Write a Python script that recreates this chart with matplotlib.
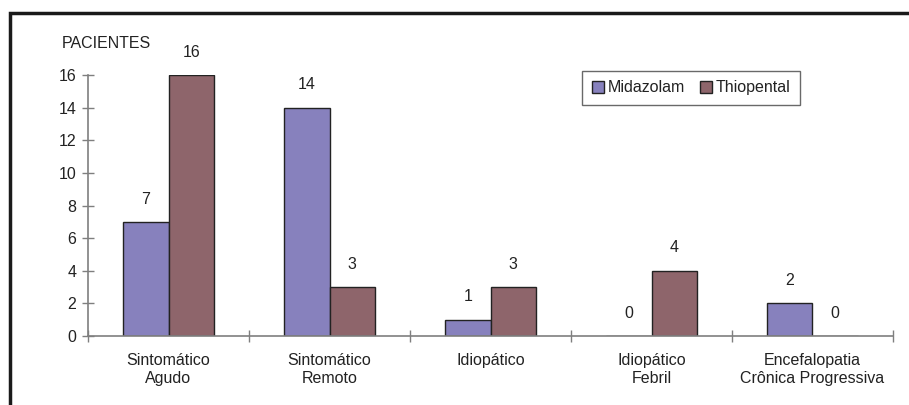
import matplotlib
matplotlib.use("Agg")
import matplotlib.pyplot as plt
import numpy as np
from matplotlib.patches import Rectangle

plt.rcParams['font.family'] = ['Liberation Sans', 'DejaVu Sans']

categorias = ["Sintomático\nAgudo", "Sintomático\nRemoto", "Idiopático",
              "Idiopático\nFebril", "Encefalopatia\nCrônica Progressiva"]
midazolam = [7, 14, 1, 0, 2]
thiopental = [16, 3, 3, 4, 0]
yticks = [0, 2, 4, 6, 8, 10, 12, 14, 16]

cor_mid = "#8781BD"
cor_thio = "#8E656B"
cinza = "#7f7f7f"
texto = "#222222"
fs = 11.5

fig = plt.figure(figsize=(9.09, 4.05), dpi=100)
ax = fig.add_axes([88/909, 1-336/405, 805/909, 261/405])

x = np.arange(len(categorias))
w = 0.283
b1 = ax.bar(x - w/2, midazolam, w, color=cor_mid, edgecolor="#222222", linewidth=1.0, label="Midazolam")
b2 = ax.bar(x + w/2, thiopental, w, color=cor_thio, edgecolor="#222222", linewidth=1.0, label="Thiopental")

for bars, vals in ((b1, midazolam), (b2, thiopental)):
    for r, v in zip(bars, vals):
        ax.annotate(str(v), (r.get_x() + r.get_width()/2, v), xytext=(0, 11),
                    textcoords="offset points", ha="center", va="bottom",
                    fontsize=fs, color=texto)

ax.set_xlim(-0.5, len(categorias) - 0.5)
ax.set_ylim(0, 16)
ax.set_yticks(yticks)
ax.tick_params(axis="y", direction="inout", length=9, width=1, color=cinza,
               labelsize=fs, labelcolor=texto, pad=4)
ax.set_xticks(np.arange(len(categorias) + 1) - 0.5)
ax.set_xticklabels([])
ax.tick_params(axis="x", which="major", direction="inout", length=9, width=1, color=cinza)
ax.set_xticks(x, minor=True)
ax.set_xticklabels(categorias, minor=True, linespacing=1.3)
ax.tick_params(axis="x", which="minor", length=0, labelsize=fs, labelcolor=texto, pad=12)

for s in ("top", "right"):
    ax.spines[s].set_visible(False)
for s in ("left", "bottom"):
    ax.spines[s].set_color(cinza)
    ax.spines[s].set_linewidth(1.2)

leg = ax.legend(loc="upper left", bbox_to_anchor=(0.614, 1.017), ncol=2,
                fontsize=fs, frameon=True, fancybox=False, borderpad=0.62,
                handlelength=0.75, handleheight=0.75, handletextpad=0.25,
                columnspacing=0.9, borderaxespad=0)
leg.get_frame().set_edgecolor("#444444")
leg.get_frame().set_linewidth(1.0)
for t in leg.get_texts():
    t.set_color(texto)

fig.text(62/909, 1-44/405, "PACIENTES", fontsize=fs, color=texto, va="center", ha="left")

fig.patches.append(Rectangle((10/909, -0.1), 1.0, 1 - 13/405 + 0.1, transform=fig.transFigure,
                             fill=False, edgecolor="#1a1a1a", linewidth=2.5))

fig.savefig("out.png", dpi=100)
